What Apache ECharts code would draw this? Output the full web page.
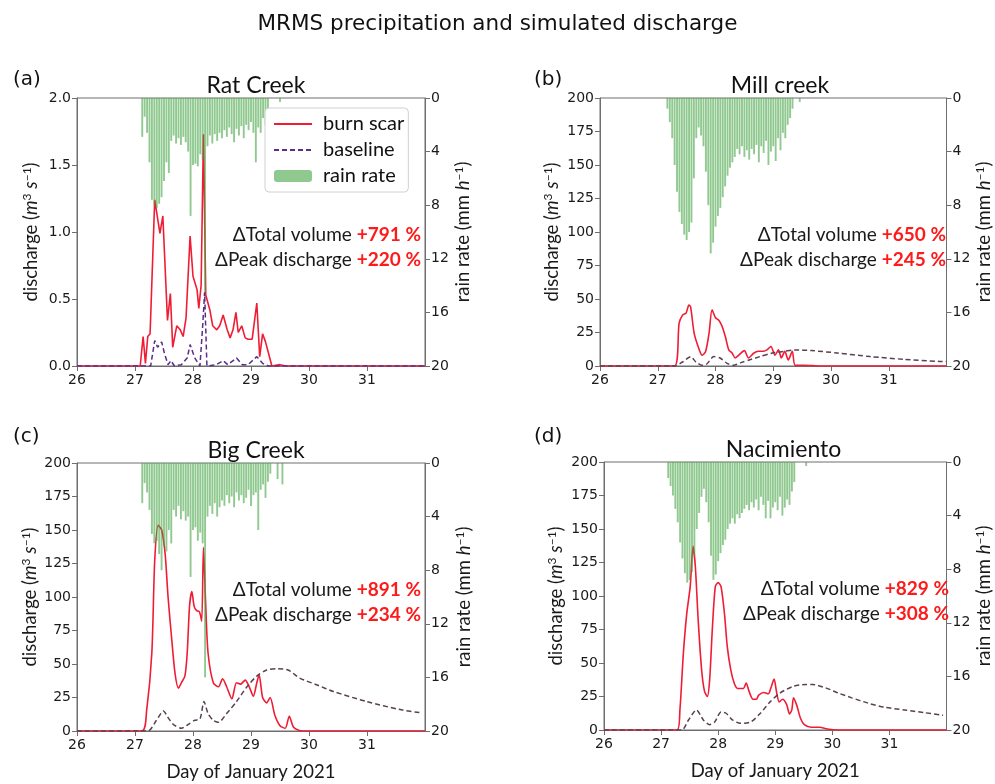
<!DOCTYPE html>
<html><head><meta charset="utf-8">
<script src="https://cdn.jsdelivr.net/npm/echarts@6/dist/echarts.min.js"></script>
<style>html,body{margin:0;padding:0;background:#fff}#c{width:995px;height:784px}</style>
</head><body><div id="c"></div>
<script>
// ---------- DATA ----------
const panelTitles = ['Rat Creek', 'Mill creek', 'Big Creek', 'Nacimiento'];
const panelLetters = ['(a)', '(b)', '(c)', '(d)'];
const xTicks = [26, 27, 28, 29, 30, 31];
const rainTicks = [0, 4, 8, 12, 16, 20];
const totalVolume = ['+791 %', '+650 %', '+891 %', '+829 %'];
const peakDischarge = ['+220 %', '+245 %', '+234 %', '+308 %'];

// hourly rain rate (mm/h), first bar at the given day
const rainStartA = 27.125;
const rainA = [2.9,1.4,2.6,4.8,7.6,8.0,8.2,7.9,7.4,6.2,4.8,5.6,3.2,2.8,3.4,3.0,3.5,2.9,3.3,4.0,8.8,5.0,4.9,5.1,4.2,4.6,14.5,3.6,2.8,3.4,2.7,3.2,2.6,3.0,2.4,2.9,2.2,2.7,3.3,2.3,2.8,2.1,3.0,2.0,2.4,1.8,2.6,4.8,2.2,2.6,1.5,2.0,0.8,0,0,0,0,0.3];
const rainStartB = 27.167;
const rainB = [0.8,1.8,3.0,5.0,7.0,8.5,9.4,10.2,10.6,10.0,9.3,6.0,3.0,2.2,2.8,3.6,5.5,8.0,11.6,10.8,9.6,8.8,8.2,7.4,6.6,5.8,5.2,4.8,4.4,3.8,4.2,3.6,4.4,3.9,4.6,3.8,4.2,3.5,4.8,3.6,4.1,3.2,5.0,4.0,3.6,4.7,3.0,3.9,2.6,3.0,2.0,1.5,0.8,0,0,0.3];
const rainStartC = 27.125;
const rainC = [3.0,1.5,2.2,3.5,5.3,6.0,5.8,6.8,8.0,6.2,6.6,5.0,6.0,3.5,4.0,3.2,4.2,3.6,4.3,4.0,8.5,5.0,4.8,5.8,5.2,6.0,16.0,4.0,3.2,3.8,3.0,4.0,3.3,2.8,3.2,2.4,3.0,2.5,3.3,2.2,2.8,2.4,3.0,2.6,2.0,3.2,2.4,2.2,5.0,2.0,1.6,2.6,1.4,0.8,0,0,1.2,0,1.6];
const rainStartD = 27.125;
const rainD = [1.2,1.8,2.5,3.5,4.5,6.0,7.2,8.3,9.0,8.8,8.2,7.0,5.0,3.8,2.6,2.0,3.0,4.5,7.0,8.8,8.4,7.4,6.8,6.2,5.8,5.0,4.6,4.2,4.6,3.9,4.2,3.8,3.5,3.2,3.6,3.0,3.4,2.8,3.6,2.6,3.2,4.2,2.9,4.2,3.4,3.0,3.6,2.6,4.0,3.4,2.8,3.2,2.2,1.5,0,0,0,0,0.3];

// discharge: burn scar (day, value) and baseline (day, value)
const burnDayA = [26,27.09,27.14,27.18,27.22,27.26,27.34,27.43,27.48,27.56,27.61,27.65,27.72,27.78,27.83,27.88,27.95,28.0,28.07,28.1,28.14,28.18,28.22,28.29,28.34,28.41,28.46,28.52,28.59,28.64,28.69,28.74,28.78,28.84,28.9,28.95,29.02,29.1,29.15,29.2,29.25,29.36,29.5,29.6,32];
const burnValA = [0,0,0.22,0.02,0.22,0.24,1.24,0.99,1.12,0.34,0.54,0.14,0.3,0.27,0.22,0.36,0.97,0.67,0.57,0.43,0.6,1.73,0.53,0.42,0.3,0.27,0.3,0.38,0.27,0.21,0.27,0.4,0.25,0.3,0.21,0.2,0.2,0.47,0.07,0.24,0.18,0,0.01,0,0];
const baseDayA = [26,27.27,27.34,27.39,27.46,27.51,27.57,27.62,27.68,27.8,27.9,27.95,28.03,28.12,28.17,28.2,28.24,28.4,28.52,28.6,28.75,28.85,28.95,29.1,29.2,29.3,32];
const baseValA = [0,0,0.19,0.14,0.18,0.09,0.01,0.04,0,0.01,0.06,0.16,0.06,0,0.32,0.55,0,0.01,0.04,0.01,0.06,0.01,0.01,0.07,0.02,0,0];

const burnDayB = [26,27.29,27.37,27.43,27.49,27.54,27.57,27.63,27.72,27.77,27.83,27.89,27.94,28.0,28.06,28.11,28.17,28.23,28.29,28.34,28.4,28.5,28.57,28.66,28.74,28.83,28.89,28.96,29.03,29.09,29.14,29.2,29.26,29.33,29.38,29.55,29.8,32];
const burnValB = [0,0,32,38,39.5,45.5,44,24.6,12,8,11,25,42,36,34,30,22,12,9.5,6,8,11.5,6,9.5,11,11,12,14.6,8,12,6,11,4.5,11,0.5,0.5,0,0];
const baseDayB = [26,27.29,27.43,27.57,27.66,27.77,27.85,27.97,28.08,28.2,28.31,28.44,28.62,28.77,28.97,29.2,29.37,29.66,30.11,30.68,31.26,31.88,32];
const baseValB = [0,0,3,7,3,0.5,1.5,7,6,2,0.5,2.5,5,7,9.5,11,12,11.5,9.7,7,5,3.4,3.3];

const burnDayC = [26,27.12,27.2,27.29,27.34,27.4,27.46,27.52,27.57,27.63,27.69,27.75,27.8,27.86,27.9,27.94,27.98,28.02,28.06,28.11,28.15,28.18,28.22,28.26,28.35,28.44,28.51,28.58,28.67,28.75,28.82,28.9,28.97,29.04,29.1,29.14,29.2,29.27,29.33,29.41,29.5,29.59,29.66,29.73,29.82,29.9,32];
const burnValC = [0,0,15,58,127,153.5,150,132,100,70,43,32,36,41,58,93,104,93,90,89,82,137,93,58,36,33,39,33,24,36,35,38,33,26,36,42,25,21,25,12,4,2,11,3,0.5,0,0];
const baseDayC = [26,27.22,27.37,27.49,27.57,27.66,27.8,27.92,28.03,28.12,28.19,28.26,28.35,28.44,28.58,28.75,28.93,29.1,29.27,29.44,29.64,29.84,30.13,30.42,30.99,31.57,31.94];
const baseValC = [0,0,8,15,10,5,2,5,8,9,22,13,8,6.5,13,22,33,41,45.5,46.5,45.5,39.5,34.5,29.5,22,16,13.5];

const burnDayD = [26,27.28,27.33,27.39,27.45,27.51,27.56,27.6,27.65,27.71,27.76,27.81,27.85,27.9,27.95,28.0,28.05,28.11,28.16,28.22,28.28,28.34,28.44,28.49,28.54,28.61,28.67,28.71,28.8,28.88,28.92,28.98,29.02,29.07,29.13,29.2,29.25,29.29,29.32,29.38,29.44,29.51,29.63,29.77,29.94,30.1,32];
const burnValD = [0,0,15,57,87,107,137,122,82,45,29,25,37,77,107,110,107,87,62,45,35,31,31,35,29,23,23,26,28,27,31,38,29,21,23,19,12,15,24,18,9,4,2,2,0.5,0,0];
const baseDayD = [26,27.36,27.48,27.62,27.74,27.85,27.94,28.05,28.14,28.25,28.39,28.57,28.74,28.91,29.08,29.31,29.54,29.65,29.88,30.11,30.34,30.63,30.91,31.26,31.6,31.94];
const baseValD = [0,0,7.5,15,7.5,4,6,13.5,12.5,7.5,5,6,12.5,21,27.5,32.5,34,34,31.5,27.5,24,20,17,15,13,11];

// ---------- BUILD ----------
const rainStarts = [rainStartA, rainStartB, rainStartC, rainStartD];
const rains = [rainA, rainB, rainC, rainD];
const burnDays = [burnDayA, burnDayB, burnDayC, burnDayD];
const burnVals = [burnValA, burnValB, burnValC, burnValD];
const baseDays = [baseDayA, baseDayB, baseDayC, baseDayD];
const baseVals = [baseValA, baseValB, baseValC, baseValD];

const grids = [
  {left: 77, top: 98, width: 348, height: 268},
  {left: 600, top: 98, width: 350, height: 268},
  {left: 77, top: 463, width: 348, height: 268},
  {left: 604, top: 462, width: 349, height: 268}
];
const leftGap = [36, 38, 37, 38];
const rightGap = [28, 28, 29, 28];
const tickFont = 'DejaVu Sans';
const textFont = 'Lato';
const axisCol = '#6e6e6e';
const labelCol = '#1a1a1a';
const baseColors = ['#5b2d8a', '#5a4152', '#5a4152', '#5a4152'];
const burnColor = '#f01c34';
const rainColor = 'rgba(70,165,70,0.6)';

const nameRich = {
  n: {fontFamily: textFont, fontSize: 18.5, color: labelCol},
  i: {fontFamily: textFont, fontSize: 18.5, color: labelCol, fontStyle: 'italic'},
  s: {fontFamily: textFont, fontSize: 12, color: labelCol, verticalAlign: 'top', padding: [0, 0, 8, 0]}
};

const xAxes = [], yAxes = [], series = [], titles = [], graphics = [];
titles.push({
  text: 'MRMS precipitation and simulated discharge', left: 'center', top: 8,
  textStyle: {fontFamily: 'DejaVu Sans', fontSize: 21.5, fontWeight: 'normal', color: '#111'}
});

for (let p = 0; p < 4; p++) {
  const g = grids[p];
  const isA = p === 0;
  xAxes.push({
    type: 'value', gridIndex: p, min: 26, max: 32, interval: 1,
    axisLine: {show: true, onZero: false, lineStyle: {color: axisCol}},
    axisTick: {show: true, length: 5, lineStyle: {color: axisCol}, customValues: xTicks},
    axisLabel: {fontFamily: tickFont, fontSize: 14, color: labelCol, margin: 7, customValues: xTicks,
      formatter: v => (v >= 31.5 ? '' : String(v))},
    splitLine: {show: false},
    name: p >= 2 ? 'Day of January 2021' : '', nameLocation: 'middle', nameGap: 32,
    nameTextStyle: {fontFamily: textFont, fontSize: 18.5, color: labelCol}
  });
  yAxes.push({
    type: 'value', gridIndex: p, min: 0, max: isA ? 2 : 200, interval: isA ? 0.5 : 25, position: 'left',
    axisLine: {show: true, lineStyle: {color: axisCol}},
    axisTick: {show: true, length: 5, lineStyle: {color: axisCol}},
    axisLabel: {fontFamily: tickFont, fontSize: 14, color: labelCol, margin: 6,
      formatter: v => (isA ? v.toFixed(1) : String(v))},
    splitLine: {show: false},
    name: '{n|discharge (}{i|m}{s|3}{n| }{i|s}{s|−1}{n|)}', nameLocation: 'middle', nameGap: leftGap[p], nameRotate: 90,
    nameTextStyle: {rich: nameRich}
  });
  yAxes.push({
    type: 'value', gridIndex: p, min: 0, max: 20, interval: 4, inverse: true, position: 'right',
    axisLine: {show: true, lineStyle: {color: axisCol}},
    axisTick: {show: true, length: 5, lineStyle: {color: axisCol}},
    axisLabel: {fontFamily: tickFont, fontSize: 14, color: labelCol, margin: 6},
    splitLine: {show: false},
    name: '{n|rain rate (mm }{i|h}{s|−1}{n|)}', nameLocation: 'middle', nameGap: rightGap[p], nameRotate: 90,
    nameTextStyle: {rich: nameRich}
  });
  const rainData = rains[p].map((v, i) => [rainStarts[p] + i / 24, v]);
  const burnData = burnDays[p].map((d, i) => [d, burnVals[p][i]]);
  const baseData = baseDays[p].map((d, i) => [d, baseVals[p][i]]);
  series.push({
    name: 'burn scar', type: 'line', xAxisIndex: p, yAxisIndex: 2 * p, data: burnData,
    symbol: 'none', smooth: isA ? false : 0.25, z: 2,
    lineStyle: {color: burnColor, width: 1.6}, itemStyle: {color: burnColor}
  });
  series.push({
    name: 'baseline', type: 'line', xAxisIndex: p, yAxisIndex: 2 * p, data: baseData,
    symbol: 'none', smooth: isA ? false : 0.25, z: 2,
    lineStyle: {color: baseColors[p], width: 1.5, type: [5, 3]}, itemStyle: {color: baseColors[p]}
  });
  series.push({
    name: 'rain rate', type: 'bar', xAxisIndex: p, yAxisIndex: 2 * p + 1, data: rainData,
    barWidth: 1.9, z: 3, itemStyle: {color: rainColor}, emphasis: {disabled: true}
  });
  titles.push({
    text: panelTitles[p], left: g.left + g.width / 2, textAlign: 'center', top: g.top - 29,
    textStyle: {fontFamily: textFont, fontSize: 23, fontWeight: 'normal', color: '#111'}
  });
  graphics.push({
    type: 'text', x: p % 2 === 0 ? 13 : 534, y: p < 2 ? 80 : 437,
    style: {text: panelLetters[p], font: '20px "DejaVu Sans"', fill: '#111', align: 'left', verticalAlign: 'middle'}
  });
  const rx = g.left + g.width - 4;
  const y1 = g.top + (p < 2 ? 137 : 127);
  const annRich = {
    k: {fontFamily: textFont, fontSize: 19, fill: '#1a1a1a', color: '#1a1a1a'},
    r: {fontFamily: textFont, fontSize: 19, fontWeight: 'bold', fill: '#ff1a1a', color: '#ff1a1a'}
  };
  graphics.push({
    type: 'text', x: rx, y: y1, z: 10,
    style: {text: '{k|ΔTotal volume }{r|' + totalVolume[p] + '}', rich: annRich, align: 'right', verticalAlign: 'middle'}
  });
  graphics.push({
    type: 'text', x: rx, y: y1 + 25, z: 10,
    style: {text: '{k|ΔPeak discharge }{r|' + peakDischarge[p] + '}', rich: annRich, align: 'right', verticalAlign: 'middle'}
  });
}

const option = {
  backgroundColor: '#fff',
  animation: false,
  title: titles,
  grid: grids.map(g => Object.assign({show: true, borderColor: axisCol, borderWidth: 1, backgroundColor: 'transparent'}, g)),
  xAxis: xAxes,
  yAxis: yAxes,
  series: series,
  graphic: graphics,
  legend: {
    data: [
      {name: 'burn scar', itemStyle: {opacity: 0}},
      {name: 'baseline', itemStyle: {opacity: 0}},
      {name: 'rain rate'}
    ],
    orient: 'vertical', left: 265, top: 108,
    itemWidth: 38, itemHeight: 12, itemGap: 6,
    padding: [6, 4, 6, 8],
    backgroundColor: 'rgba(255,255,255,0.9)', borderColor: '#d0d0d0', borderWidth: 1, borderRadius: 4,
    textStyle: {fontFamily: textFont, fontSize: 20, color: '#111', padding: [0, 0, 0, 6]},
    selectedMode: false
  }
};
const chart = echarts.init(document.getElementById('c'), null, {renderer: 'canvas'});
chart.setOption(option);
</script>
</body></html>
